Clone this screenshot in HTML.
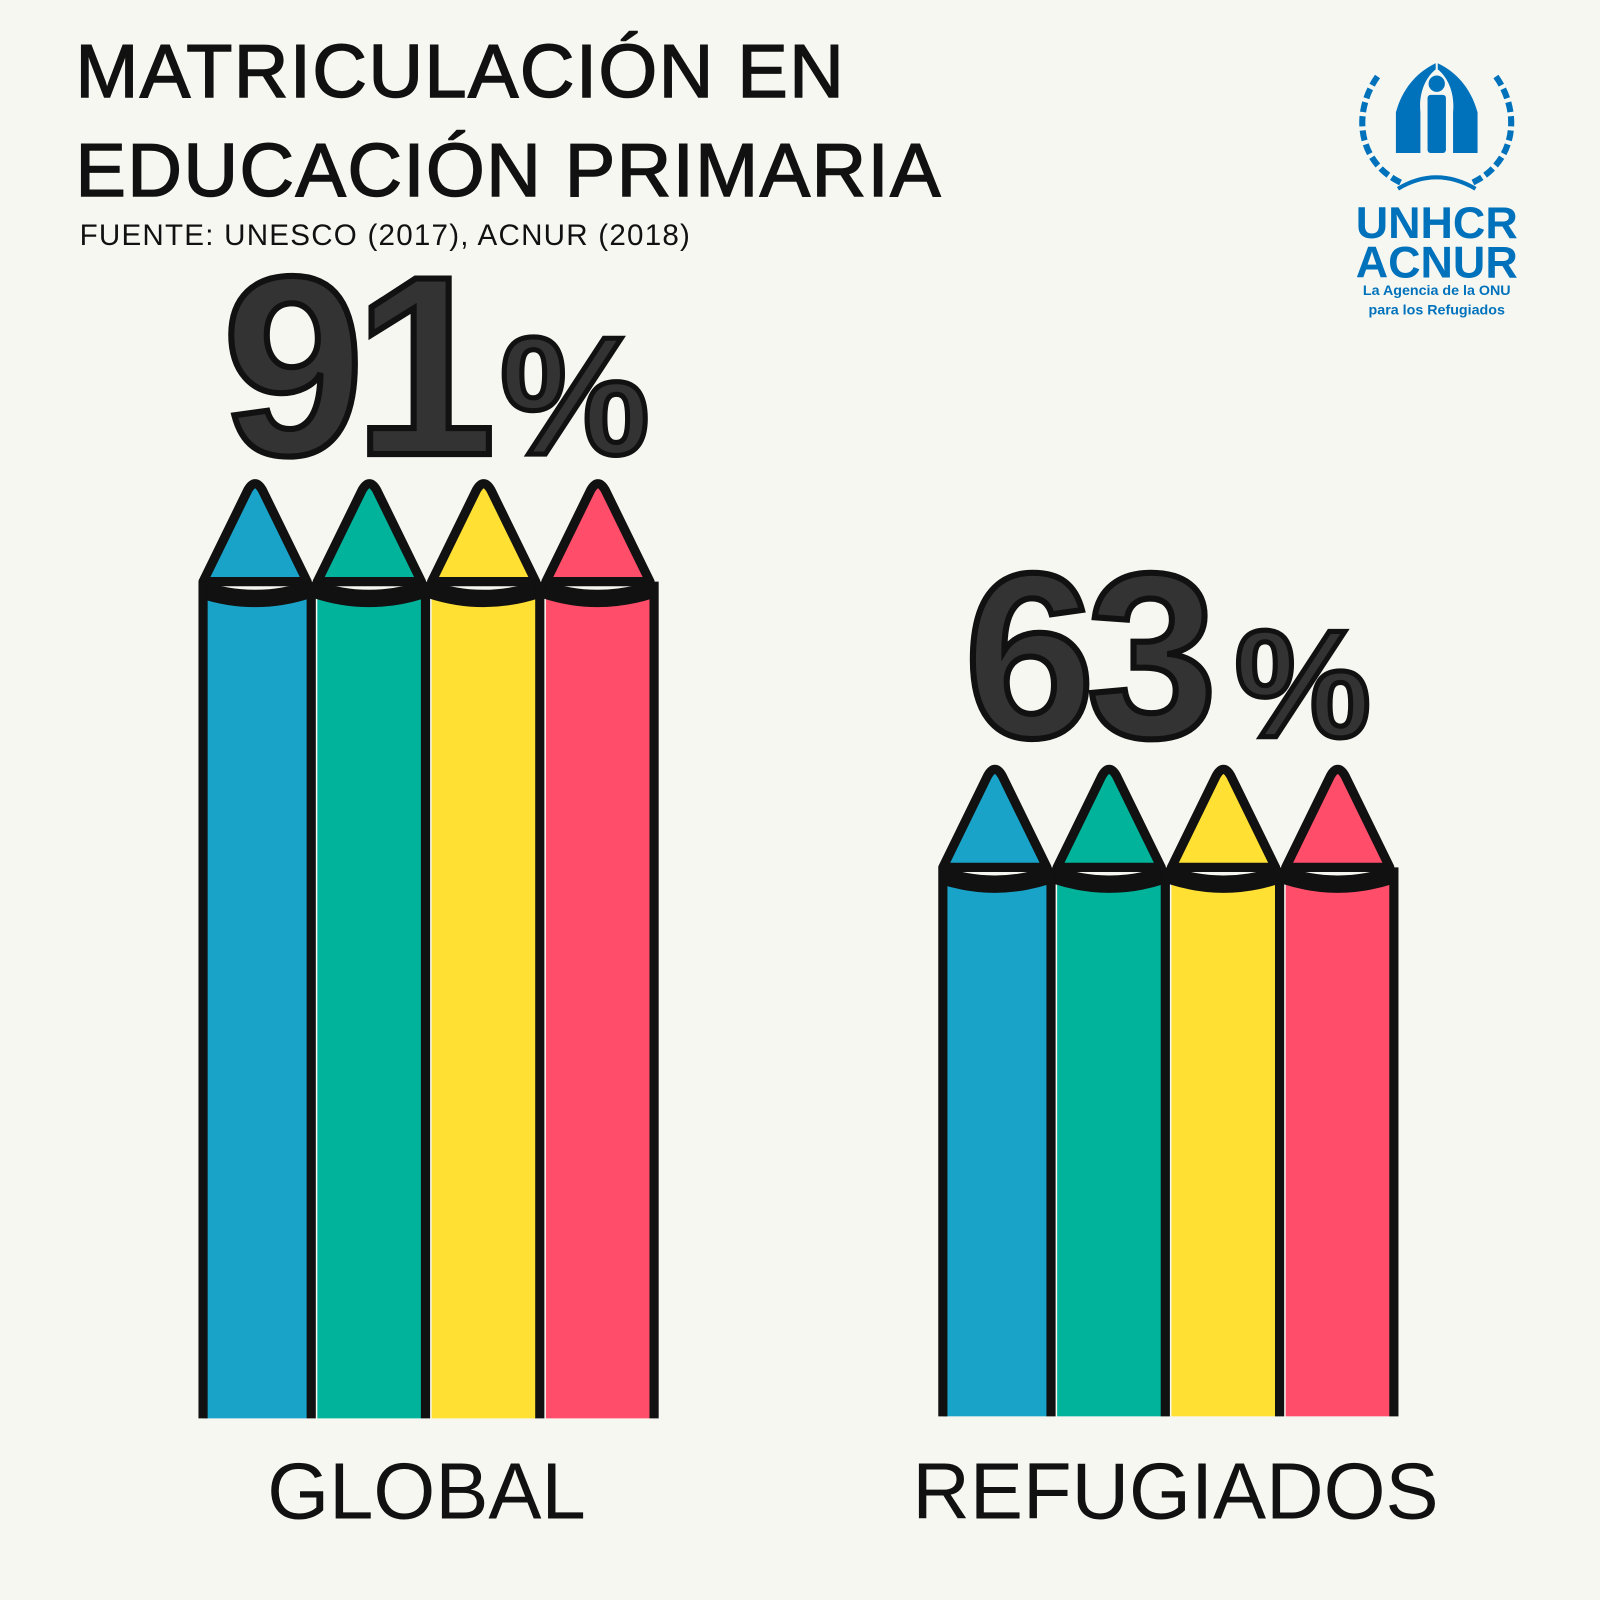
<!DOCTYPE html>
<html><head><meta charset="utf-8"><style>
html,body{margin:0;padding:0;background:#f7f7f2;}
svg{display:block}
text{font-family:"Liberation Sans",sans-serif;}
</style></head><body>
<svg width="1600" height="1600" viewBox="0 0 1568 1568" xmlns="http://www.w3.org/2000/svg">
<rect width="1568" height="1568" fill="#f7f7f2"/>
<text x="74" y="95" font-size="74" fill="#111" stroke="#111" stroke-width="1.5" letter-spacing="1.5">MATRICULACIÓN EN</text>
<text x="74" y="192" font-size="74" fill="#111" stroke="#111" stroke-width="1.5" letter-spacing="1.5">EDUCACIÓN PRIMARIA</text>
<text x="78" y="240" font-size="29" fill="#111" letter-spacing="1.2">FUENTE: UNESCO (2017), ACNUR (2018)</text>

<!-- logo -->
<g fill="#0072bc">
<path d="M1407 62 C1390 70 1375 85 1368 110 L1368 150 L1392 150 L1392 110 C1390 90 1398 75 1407 68 Z"/>
<path d="M1409 62 C1426 70 1441 85 1448 110 L1448 150 L1424 150 L1424 110 C1426 90 1418 75 1409 68 Z"/>
<circle cx="1408" cy="82" r="8"/>
<rect x="1399" y="93" width="18" height="57" rx="3"/>
<g fill="none" stroke="#0072bc" stroke-width="6" stroke-dasharray="10 4">
<path d="M1350 75 C1325 110 1330 160 1375 180"/>
<path d="M1466 75 C1491 110 1486 160 1441 180"/>
</g>
<path d="M1370 185 C1395 170 1420 170 1446 185" fill="none" stroke="#0072bc" stroke-width="4"/>
<text x="1408" y="233" font-size="44" font-weight="bold" text-anchor="middle">UNHCR</text>
<text x="1408" y="272" font-size="44" font-weight="bold" text-anchor="middle">ACNUR</text>
<text x="1408" y="289" font-size="14" font-weight="bold" text-anchor="middle">La Agencia de la ONU</text>
<text x="1408" y="308" font-size="14" font-weight="bold" text-anchor="middle">para los Refugiados</text>
</g>

<defs>
<g id="tip">
<path d="M4 100 L48 10 Q55 -2 62 10 L106 100 Z" fill="currentColor" stroke="#111" stroke-width="9" stroke-linejoin="round"/>
<path d="M0 98 Q55 118 110 98 L110 116 Q55 134 0 116 Z" fill="#111"/>
</g>
</defs>

<g transform="translate(195,470)">
<g color="#1aa3c9"><rect x="4" y="112" width="102" height="808" fill="currentColor"/><use href="#tip"/></g>
<g color="#00b39a" transform="translate(112,0)"><rect x="4" y="112" width="102" height="808" fill="currentColor"/><use href="#tip"/></g>
<g color="#ffe033" transform="translate(224,0)"><rect x="4" y="112" width="102" height="808" fill="currentColor"/><use href="#tip"/></g>
<g color="#ff4d6a" transform="translate(336,0)"><rect x="4" y="112" width="102" height="808" fill="currentColor"/><use href="#tip"/></g>
<path d="M4 100 V920 M110 100 V920 M222 100 V920 M334 100 V920 M446 100 V920" stroke="#111" stroke-width="9"/>
</g>
<g transform="translate(920,750)">
<g color="#1aa3c9"><rect x="4" y="112" width="102" height="526" fill="currentColor"/><use href="#tip"/></g>
<g color="#00b39a" transform="translate(112,0)"><rect x="4" y="112" width="102" height="526" fill="currentColor"/><use href="#tip"/></g>
<g color="#ffe033" transform="translate(224,0)"><rect x="4" y="112" width="102" height="526" fill="currentColor"/><use href="#tip"/></g>
<g color="#ff4d6a" transform="translate(336,0)"><rect x="4" y="112" width="102" height="526" fill="currentColor"/><use href="#tip"/></g>
<path d="M4 100 V638 M110 100 V638 M222 100 V638 M334 100 V638 M446 100 V638" stroke="#111" stroke-width="9"/>
</g>

<text x="218" y="445" font-size="250" font-weight="bold" fill="#333" stroke="#111" stroke-width="6" letter-spacing="-10">91</text>
<text x="490" y="445" font-size="165" font-weight="bold" fill="#333" stroke="#111" stroke-width="5">%</text>
<text x="945" y="722" font-size="230" font-weight="bold" fill="#333" stroke="#111" stroke-width="6" letter-spacing="-8">63</text>
<text x="1210" y="722" font-size="150" font-weight="bold" fill="#333" stroke="#111" stroke-width="5">%</text>

<text x="418" y="1488" font-size="78" fill="#111" text-anchor="middle">GLOBAL</text>
<text x="1152" y="1488" font-size="78" fill="#111" text-anchor="middle">REFUGIADOS</text>
</svg>
</body></html>
